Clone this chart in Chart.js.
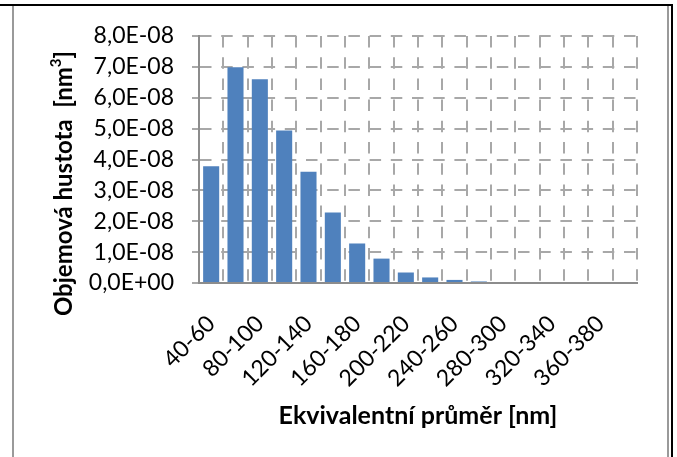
<!DOCTYPE html>
<html>
<head>
<meta charset="utf-8">
<script src="https://cdn.jsdelivr.net/npm/chart.js@4/dist/chart.umd.min.js"></script>
<style>
  html, body { margin: 0; padding: 0; background: #fff; }
  #wrap { position: relative; width: 677px; height: 457px; overflow: hidden; }
  #wrap canvas { position: absolute; left: 0; top: 0; }
  .ln { position: absolute; }
</style>
</head>
<body>
<div id="wrap">
  <canvas id="c" width="677" height="457"></canvas>
  <div class="ln" style="left:0;top:4px;width:673px;height:2px;background:#000"></div>
  <div class="ln" style="left:671px;top:4px;width:2px;height:453px;background:#000"></div>
  <div class="ln" style="left:12px;top:6px;width:2px;height:451px;background:#9a9a9a"></div>
  <div class="ln" style="left:667px;top:6px;width:2px;height:451px;background:#9a9a9a"></div>
</div>
<script>
// Size classes of equivalent diameter (nm)
const categories = [
  '40-60', '60-80', '80-100', '100-120', '120-140', '140-160',
  '160-180', '180-200', '200-220', '220-240', '240-260', '260-280',
  '280-300', '300-320', '320-340', '340-360', '360-380', '380-400'
];

// Volume density per class (nm^-3)
const density = [
  3.78e-8, 6.99e-8, 6.60e-8, 4.94e-8, 3.60e-8, 2.28e-8,
  1.28e-8, 0.79e-8, 0.34e-8, 0.18e-8, 0.10e-8, 0.05e-8,
  0, 0, 0, 0, 0, 0
];

// Value axis labels, bottom to top
const yTickLabels = [
  '0,0E+00', '1,0E-08', '2,0E-08', '3,0E-08', '4,0E-08',
  '5,0E-08', '6,0E-08', '7,0E-08', '8,0E-08'
];

const xTitle = 'Ekvivalentní průměr [nm]';
const yTitleMain = 'Objemová hustota  [nm';
const yTitleSup = '3';
const yTitleEnd = ']';

const FONT = 'Lato';
const GRID = '#a8a8a8';
const AXIS = '#8c8c8c';
const DASH = [11.5, 9.7];

// Vertical axis title with a superscript exponent
const yTitlePlugin = {
  id: 'yTitle',
  afterDraw(chart) {
    const ctx = chart.ctx;
    const area = chart.chartArea;
    const cy = (area.top + area.bottom) / 2 + 24;
    ctx.save();
    ctx.translate(64, cy);
    ctx.rotate(-Math.PI / 2);
    ctx.fillStyle = '#000';
    ctx.textBaseline = 'middle';
    ctx.textAlign = 'left';
    const big = 'bold 24px ' + FONT;
    const small = 'bold 15px ' + FONT;
    ctx.font = big;
    const w1 = ctx.measureText(yTitleMain).width;
    const w3 = ctx.measureText(yTitleEnd).width;
    ctx.font = small;
    const w2 = ctx.measureText(yTitleSup).width;
    let x = -(w1 + w2 + w3) / 2;
    ctx.font = big;
    ctx.fillText(yTitleMain, x, 0);
    x += w1;
    ctx.font = small;
    ctx.fillText(yTitleSup, x, -8);
    x += w2;
    ctx.font = big;
    ctx.fillText(yTitleEnd, x, 0);
    ctx.restore();
  }
};

new Chart(document.getElementById('c'), {
  type: 'bar',
  data: {
    labels: categories,
    datasets: [{
      data: density,
      backgroundColor: '#4f81bd',
      borderWidth: 0,
      categoryPercentage: 1,
      barPercentage: 0.66
    }]
  },
  options: {
    responsive: false,
    animation: false,
    layout: { padding: { left: 0, right: 40, top: 36, bottom: 0 } },
    plugins: { legend: { display: false }, tooltip: { enabled: false } },
    scales: {
      x: {
        grid: { color: GRID, lineWidth: 2, drawTicks: false, offset: true },
        border: { display: true, color: AXIS, width: 2, dash: DASH },
        ticks: {
          autoSkip: false,
          minRotation: 45,
          maxRotation: 45,
          padding: 27,
          color: '#000',
          font: { family: FONT, size: 23 },
          callback: (v, i) => (i % 2 === 0 ? categories[i] : '')
        },
        title: {
          display: true,
          text: xTitle,
          color: '#000',
          font: { family: FONT, size: 25, weight: 'bold' },
          padding: { top: 0, bottom: 26 }
        },
        afterFit(scale) { scale.height = 174; }
      },
      y: {
        min: 0,
        max: 8e-8,
        ticks: {
          stepSize: 1e-8,
          padding: 18,
          color: '#000',
          font: { family: FONT, size: 23 },
          callback: (v, i) => yTickLabels[i]
        },
        grid: {
          color: GRID, lineWidth: 2, tickLength: 7,
          tickColor: AXIS, tickWidth: 1.5, tickBorderDash: []
        },
        border: { color: AXIS, width: 2, dash: DASH },
        title: { display: false },
        afterFit(scale) { scale.width = 199; }
      }
    }
  },
  plugins: [yTitlePlugin]
});
</script>
</body>
</html>
